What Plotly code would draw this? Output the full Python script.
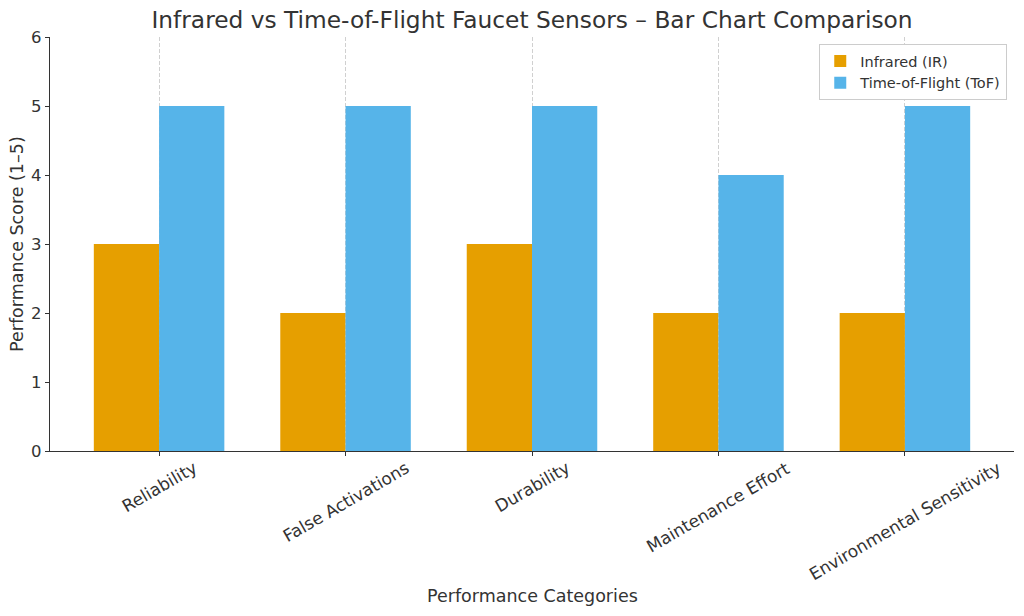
import plotly.graph_objects as go

categories = ["Reliability", "False Activations", "Durability", "Maintenance Effort", "Environmental Sensitivity"]
ir_scores = [3, 2, 3, 2, 2]
tof_scores = [5, 5, 5, 4, 5]
series_names = ["Infrared (IR)", "Time-of-Flight (ToF)"]
y_ticks = [0, 1, 2, 3, 4, 5, 6]

FONT = "DejaVu Sans"
TXT = "#333333"

fig = go.Figure()
fig.add_trace(go.Bar(x=categories, y=ir_scores, name=series_names[0],
                     marker=dict(color="#E69F00", line=dict(width=0))))
fig.add_trace(go.Bar(x=categories, y=tof_scores, name=series_names[1],
                     marker=dict(color="#56B4E9", line=dict(width=0))))

annotations = []
for c in categories:
    annotations.append(dict(x=c, y=0, xref="x", yref="paper", text=c, showarrow=False,
                            textangle=-30, xanchor="center", yanchor="top", yshift=-4,
                            font=dict(family=FONT, size=17, color=TXT)))
annotations.append(dict(x=0.5, y=-0.350, xref="paper", yref="paper", text="Performance Categories",
                        showarrow=False, xanchor="center", yanchor="middle",
                        font=dict(family=FONT, size=17.5, color=TXT)))
annotations.append(dict(x=0, y=0.5, xref="paper", yref="paper", text="Performance Score (1–5)",
                        showarrow=False, xanchor="center", yanchor="middle", xshift=-33,
                        textangle=-90, font=dict(family=FONT, size=17.5, color=TXT)))

fig.update_layout(
    width=1024, height=616,
    barmode="group", bargap=0.3, bargroupgap=0,
    plot_bgcolor="white", paper_bgcolor="white",
    margin=dict(l=50, r=10, t=37, b=165),
    font=dict(family=FONT, color=TXT),
    title=dict(text="Infrared vs Time-of-Flight Faucet Sensors – Bar Chart Comparison",
               x=0.5, xref="paper", xanchor="center", y=1 - 20 / 616, yanchor="middle",
               font=dict(family=FONT, size=23.3, color=TXT)),
    xaxis=dict(range=[-0.585, 4.585], showticklabels=False, ticks="outside", ticklen=4,
               tickcolor="#333", showline=True, linecolor="#333", linewidth=1.2,
               showgrid=True, gridcolor="#d0d0d0", griddash="4px,2px", gridwidth=0.8,
               automargin=False),
    yaxis=dict(range=[0, 6], tickvals=y_ticks, ticks="outside", ticklen=4, tickcolor="#333",
               showline=True, linecolor="#333", linewidth=1.2, showgrid=False, zeroline=False,
               tickfont=dict(family=FONT, size=16.5, color=TXT), automargin=False),
    legend=dict(x=0.993, y=0.983, xanchor="right", yanchor="top", bgcolor="white",
                bordercolor="#cccccc", borderwidth=1, tracegroupgap=0,
                font=dict(family=FONT, size=14.5, color=TXT)),
    annotations=annotations,
)

fig.write_html("out.html", config={"displayModeBar": False},
               post_script="document.body.style.margin='0';")
